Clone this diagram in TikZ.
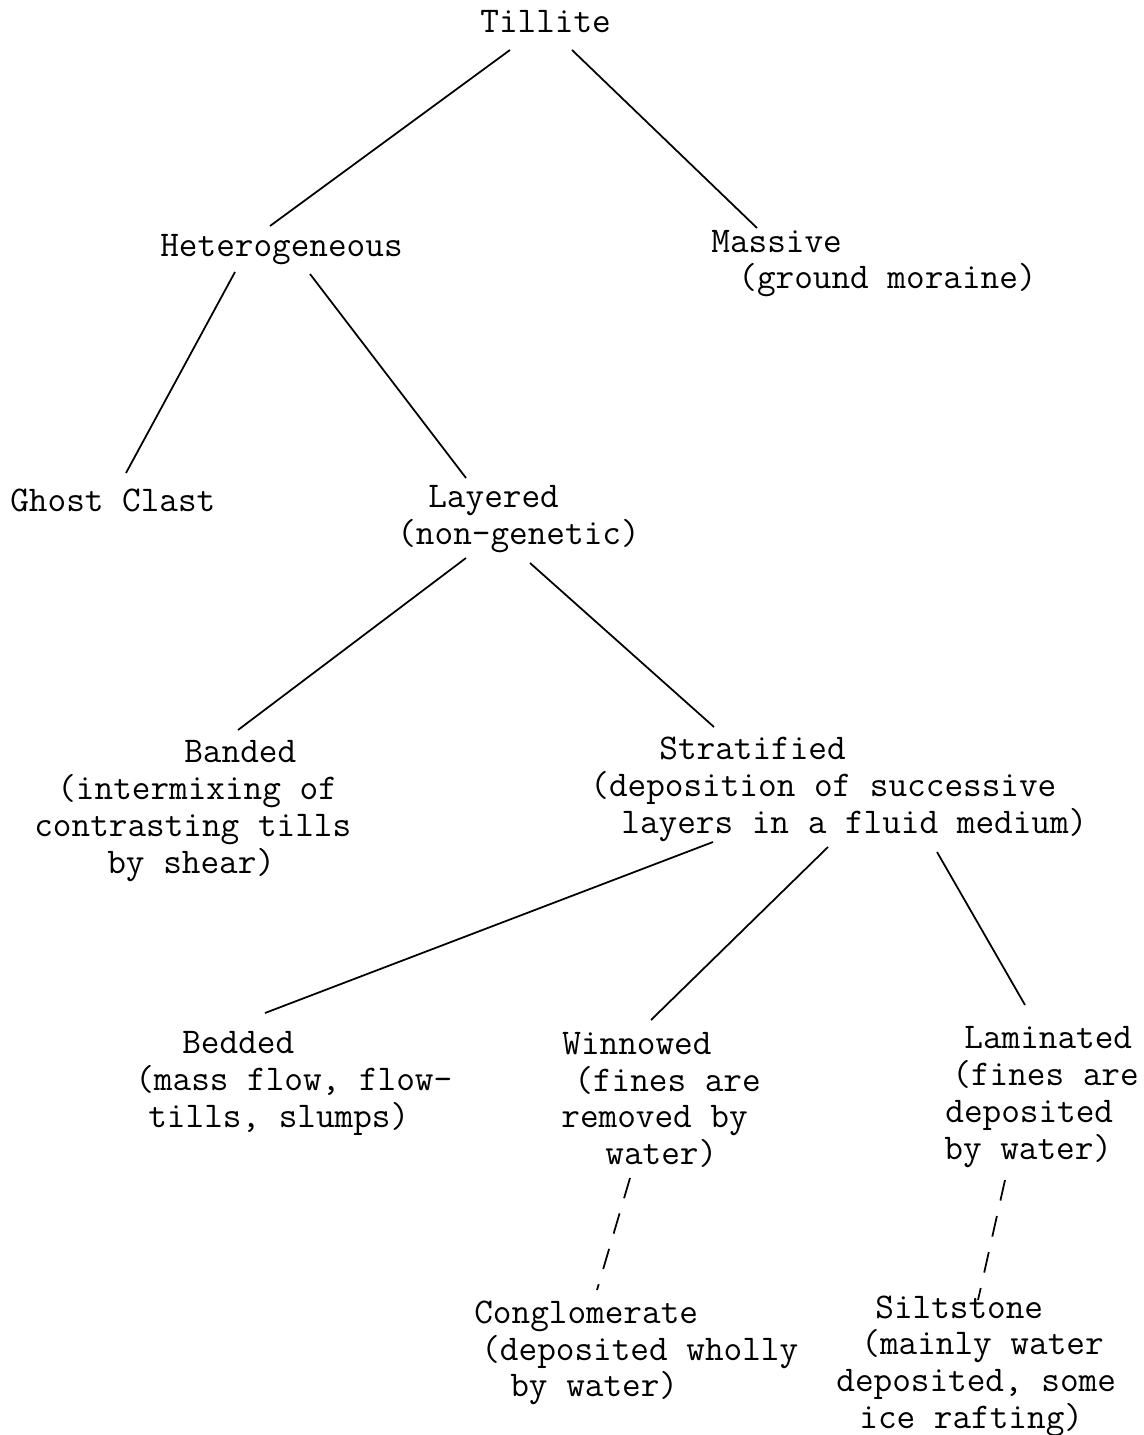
\documentclass[tikz,border=0pt]{standalone}
\usepackage{tikz}
\usetikzlibrary{calc}
\newlength\pxu
\setlength\pxu{0.02cm}
\newcommand{\ind}[1]{\hspace*{#1\pxu}}
\tikzstyle{rock}=[anchor=west,inner sep=0pt,align=left,font=\ttfamily\fontsize{20.6}{20.9}\selectfont]
\tikzstyle{link}=[line width=1pt]
\tikzstyle{guess}=[line width=1pt,dash pattern=on 12pt off 9pt]

\begin{document}
\begin{tikzpicture}[x=0.02cm,y=-0.02cm]
\useasboundingbox (0,0) rectangle (1143,1435);
\node[rock] (tillite) at (480,22) {Tillite};
\node[rock] (hetero) at (160,250) {Heterogeneous};
\node[rock] (massive) at (711,263.5) {Massive\\\ind{27}(ground moraine)};
\node[rock] (ghost) at (10,500) {Ghost Clast};
\node[rock] (layered) at (397,519) {\ind{31}Layered\\(non-genetic)};
\node[rock] (banded) at (34,811) {\ind{150}Banded\\\ind{23}(intermixing of\\contrasting tills\\\ind{73}by shear)};
\node[rock] (strat) at (590,789.5) {\ind{69}Stratified\\(deposition of successive\\\ind{31}layers in a fluid medium)};
\node[rock] (bedded) at (135,1083.5) {\ind{47}Bedded\\(mass flow, flow-\\\ind{13}tills, slumps)};
\node[rock] (winnow) at (561,1100) {\ind{1}Winnowed\\\ind{13}(fines are\\removed by\\\ind{44}water)};
\node[rock] (lamin) at (944,1097) {\ind{20}Laminated\\\ind{8}(fines are\\\ind{1}deposited\\by water)};
\node[rock] (conglo) at (474,1353) {Conglomerate\\\ind{7}(deposited wholly\\\ind{36}by water)};
\node[rock] (silt) at (836,1366) {\ind{39}Siltstone\\\ind{25}(mainly water\\deposited, some\\\ind{23}ice rafting)};
% tree
\draw[link] ($(tillite.west)+(30,28)$) -- ($(hetero.west)+(110,-24)$);
\draw[link] ($(tillite.west)+(92,28)$) -- ($(massive.west)+(46,-35.5)$);
\draw[link] ($(hetero.west)+(75,22)$) -- ($(ghost.west)+(116,-27)$);
\draw[link] ($(hetero.west)+(150,24)$) -- ($(layered.west)+(69,-41)$);
\draw[link] ($(layered.west)+(69,39)$) -- ($(banded.west)+(204,-81)$);
\draw[link] ($(layered.west)+(133,44)$) -- ($(strat.west)+(124,-62.5)$);
\draw[link] ($(strat.west)+(123,52.5)$) -- ($(bedded.west)+(130,-70.5)$);
\draw[link] ($(strat.west)+(238,57.5)$) -- ($(winnow.west)+(90,-80)$);
\draw[link] ($(strat.west)+(347,62.5)$) -- ($(lamin.west)+(81,-92)$);
\draw[guess] ($(winnow.west)+(69,78)$) -- ($(conglo.west)+(123,-63)$);
\draw[guess] ($(lamin.west)+(61,83)$) -- ($(silt.west)+(142,-66)$);
\end{tikzpicture}
\end{document}
